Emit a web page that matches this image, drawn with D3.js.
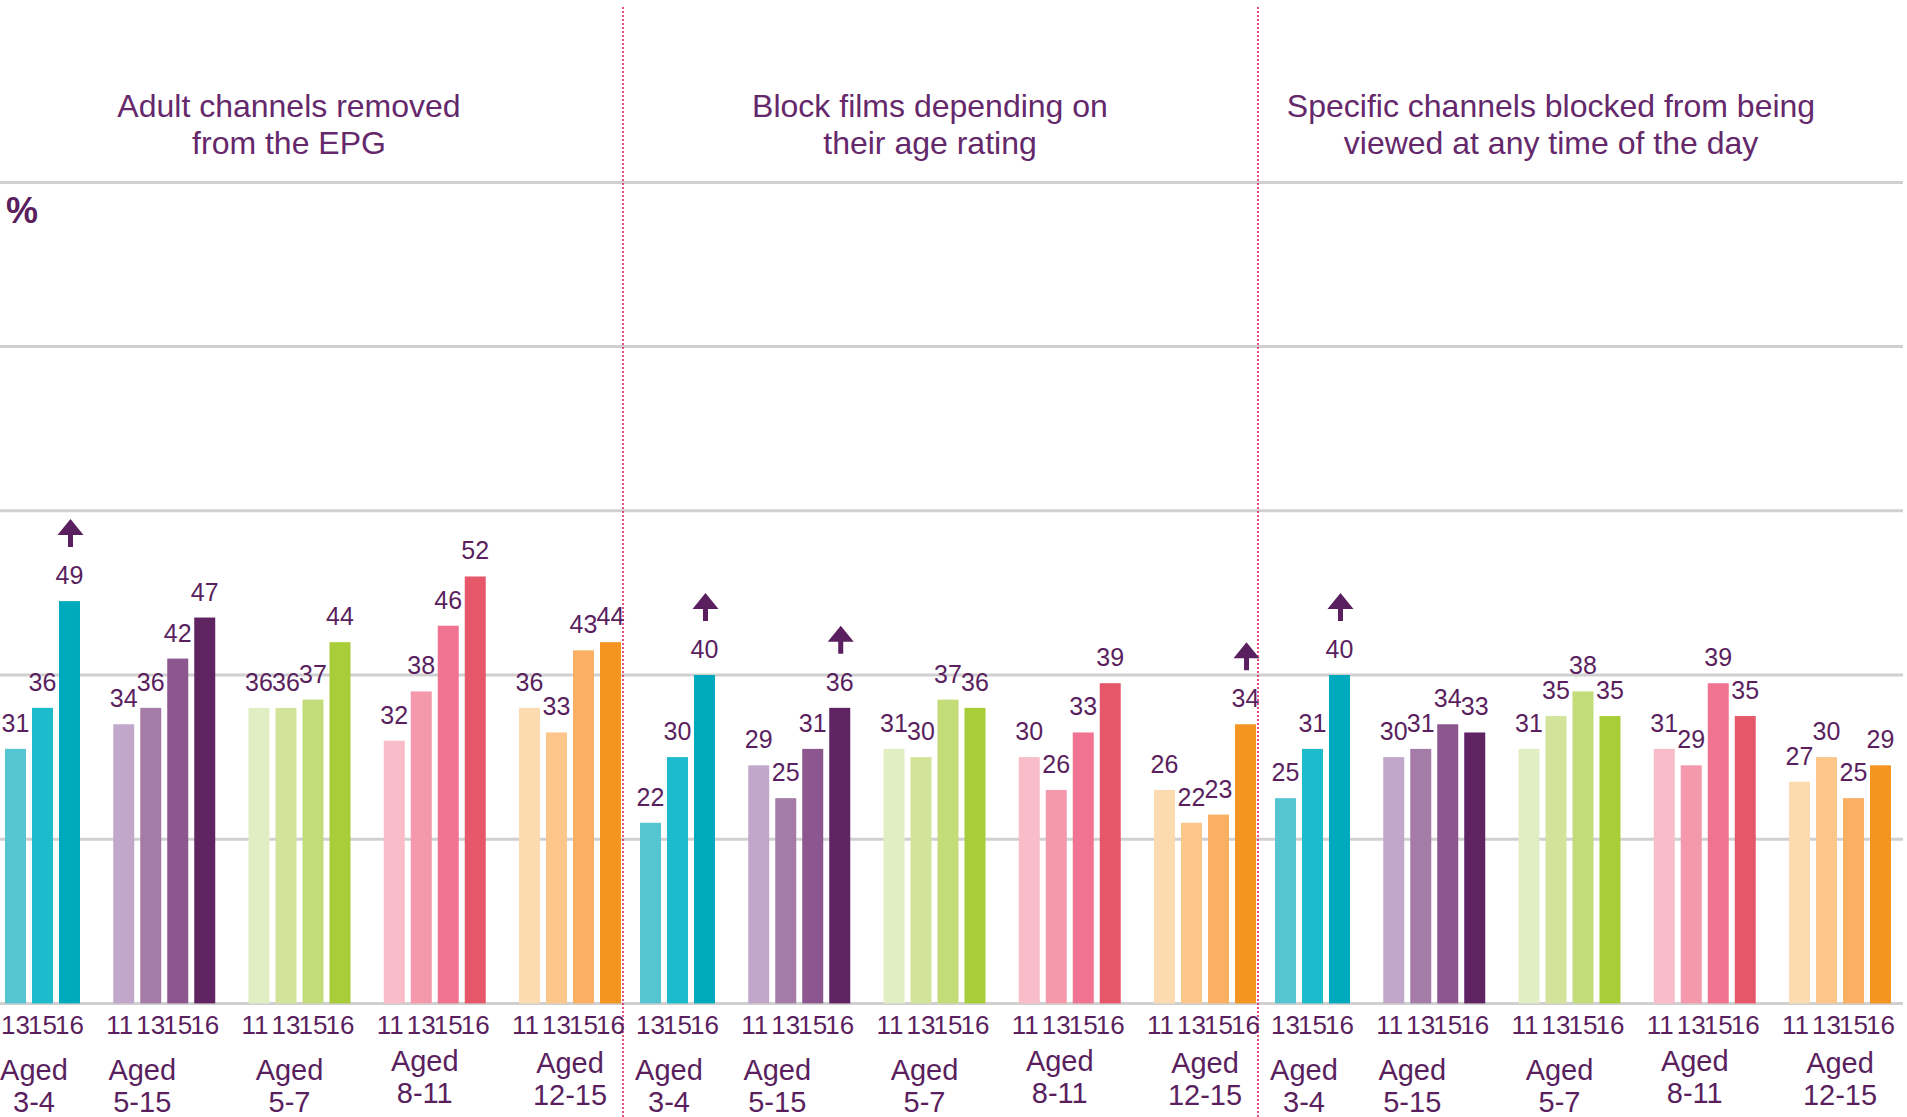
<!DOCTYPE html>
<head>
  <meta charset="utf-8">
  <title>Parental controls on TV</title>
  <script src="https://d3js.org/d3.v7.min.js"></script>
  <style>
    body {
      margin: 0;
      background: #fff;
      font-family: 'Liberation Sans', Arial, sans-serif;
    }
    .grid-line {
      stroke: #d0d0d0;
      stroke-width: 3;
    }
    .divider {
      stroke: #e0245c;
      stroke-width: 1.6;
      stroke-dasharray: 2,2;
    }
    .title {
      fill: #64286b;
      font-size: 32px;
      text-anchor: middle;
    }
    .value {
      fill: #5a1f5e;
      font-size: 25px;
      text-anchor: middle;
    }
    .year {
      fill: #5a1f5e;
      font-size: 26px;
      text-anchor: middle;
    }
    .group-label {
      fill: #5a1f5e;
      font-size: 29px;
      text-anchor: middle;
    }
    .unit {
      fill: #5a1f5e;
      font-size: 36px;
      font-weight: bold;
    }
    .arrow {
      fill: #5a1f5e;
    }
  </style>
</head>

<body>
  <script>
    // data
    var panelTitles = [
      ["Adult channels removed", "from the EPG"],
      ["Block films depending on", "their age rating"],
      ["Specific channels blocked from being", "viewed at any time of the day"]
    ];
    var ageGroups = ["3-4", "5-15", "5-7", "8-11", "12-15"];
    var years = ["11", "13", "15", "16"];
    var yTicks = [0, 20, 40, 60, 80, 100];

    // one row per age group, one column per year (null = not asked)
    var adultValues = [
      [null, 31, 36, 49],
      [34, 36, 42, 47],
      [36, 36, 37, 44],
      [32, 38, 46, 52],
      [36, 33, 43, 44]
    ];
    var filmValues = [
      [null, 22, 30, 40],
      [29, 25, 31, 36],
      [31, 30, 37, 36],
      [30, 26, 33, 39],
      [26, 22, 23, 34]
    ];
    var channelValues = [
      [null, 25, 31, 40],
      [30, 31, 34, 33],
      [31, 35, 38, 35],
      [31, 29, 39, 35],
      [27, 30, 25, 29]
    ];
    // significant increase since last year: [panel, age group]
    var arrows = [[0, "3-4"], [1, "3-4"], [1, "5-15"], [1, "12-15"], [2, "3-4"]];

    var groupColours = {
      "3-4":   ["#8fd8e0", "#56c5d2", "#1dbccc", "#00aabd"],
      "5-15":  ["#c1a7c9", "#a57ca8", "#8c578f", "#612463"],
      "5-7":   ["#e1edc2", "#d3e49a", "#c2dc78", "#a9cd38"],
      "8-11":  ["#f8bdc8", "#f499ac", "#f07391", "#e55769"],
      "12-15": ["#fddbb1", "#fcc68a", "#fbaf62", "#f59521"]
    };

    // layout
    var W = 1907, H = 1117;
    var titleX = [289, 930, 1551];
    var labelNudge = {"3-4": 5, "5-15": -22, "5-7": -10, "8-11": -10, "12-15": 0};
    var labelLift = {"3-4": 0, "5-15": 0, "5-7": 0, "8-11": -9, "12-15": -7};

    var svg = d3.select("body").append("svg")
      .attr("width", W)
      .attr("height", H);

    var y = d3.scaleLinear()
      .domain([0, 100])
      .range([1003.4, 182.4]);

    var xPanel = d3.scaleBand()
      .domain([0, 1, 2])
      .range([-22, -22 + 3 * 635]);

    var xGroup = d3.scaleBand()
      .domain(ageGroups)
      .range([0, 643])
      .paddingInner(0.246);

    var xYear = d3.scaleBand()
      .domain(years)
      .range([0, xGroup.bandwidth()])
      .paddingInner(0.222);

    var allValues = [adultValues, filmValues, channelValues];
    var bars = [];
    allValues.forEach((rows, p) => {
      rows.forEach((row, gi) => {
        row.forEach((v, yi) => {
          if (v != null) {
            bars.push({panel: p, group: ageGroups[gi], year: years[yi], value: v, colour: groupColours[ageGroups[gi]][yi]});
          }
        });
      });
    });

    var barX = d => xPanel(d.panel) + xGroup(d.group) + xYear(d.year);
    var barMid = d => barX(d) + xYear.bandwidth() / 2;

    // grid
    svg.append("g").selectAll("line")
      .data(yTicks)
      .enter().append("line")
        .attr("class", "grid-line")
        .attr("x1", 0)
        .attr("x2", 1903)
        .attr("y1", d => y(d))
        .attr("y2", d => y(d));

    // panel dividers
    svg.append("g").selectAll("line")
      .data([0, 1])
      .enter().append("line")
        .attr("class", "divider")
        .attr("x1", d => xPanel(d) + 645)
        .attr("x2", d => xPanel(d) + 645)
        .attr("y1", 7)
        .attr("y2", H);

    // titles
    var titles = svg.append("g").selectAll("text")
      .data(panelTitles)
      .enter().append("text")
        .attr("class", "title")
        .attr("x", (d, i) => titleX[i])
        .attr("y", 117);
    titles.selectAll("tspan")
      .data(d => d)
      .enter().append("tspan")
        .attr("x", function() { return d3.select(this.parentNode).attr("x"); })
        .attr("dy", (d, i) => i ? 36.5 : 0)
        .text(d => d);

    svg.append("text")
      .attr("class", "unit")
      .attr("x", 6)
      .attr("y", 223)
      .text("%");

    // bars
    svg.append("g").selectAll("rect")
      .data(bars)
      .enter().append("rect")
        .attr("x", barX)
        .attr("y", d => y(d.value))
        .attr("width", xYear.bandwidth())
        .attr("height", d => y(0) - y(d.value))
        .style("fill", d => d.colour);

    // value labels
    svg.append("g").selectAll("text")
      .data(bars)
      .enter().append("text")
        .attr("class", "value")
        .attr("x", barMid)
        .attr("y", d => y(d.value) - 17)
        .text(d => d.value);

    // year labels ("11" is narrow in the original face, so pull it left a touch)
    svg.append("g").selectAll("text")
      .data(bars)
      .enter().append("text")
        .attr("class", "year")
        .attr("x", d => barMid(d) + (d.year == "11" ? -4 : 0))
        .attr("y", 1034)
        .text(d => d.year);

    // age group labels
    var groupCells = [];
    [0, 1, 2].forEach(p => ageGroups.forEach(g => groupCells.push({panel: p, group: g})));
    var groupLabels = svg.append("g").selectAll("text")
      .data(groupCells)
      .enter().append("text")
        .attr("class", "group-label")
        .attr("x", d => xPanel(d.panel) + xGroup(d.group) + xGroup.bandwidth() / 2 + labelNudge[d.group])
        .attr("y", d => 1080 + labelLift[d.group]);
    groupLabels.append("tspan")
      .attr("x", function() { return d3.select(this.parentNode).attr("x"); })
      .text("Aged");
    groupLabels.append("tspan")
      .attr("x", function() { return d3.select(this.parentNode).attr("x"); })
      .attr("dy", 32)
      .text(d => d.group);

    // up arrows over the 2016 bar
    var arrowBars = arrows.map(a => bars.find(b => b.panel == a[0] && b.group == a[1] && b.year == "16"));
    svg.append("g").selectAll("path")
      .data(arrowBars)
      .enter().append("path")
        .attr("class", "arrow")
        .attr("d", d => {
          var cx = barMid(d) + 1, top = y(d.value);
          var p = d3.path();
          p.moveTo(cx, top - 82);
          p.lineTo(cx + 13, top - 66);
          p.lineTo(cx + 2.5, top - 66);
          p.lineTo(cx + 2.5, top - 54);
          p.lineTo(cx - 2.5, top - 54);
          p.lineTo(cx - 2.5, top - 66);
          p.lineTo(cx - 13, top - 66);
          p.closePath();
          return p.toString();
        });
  </script>
</body>
